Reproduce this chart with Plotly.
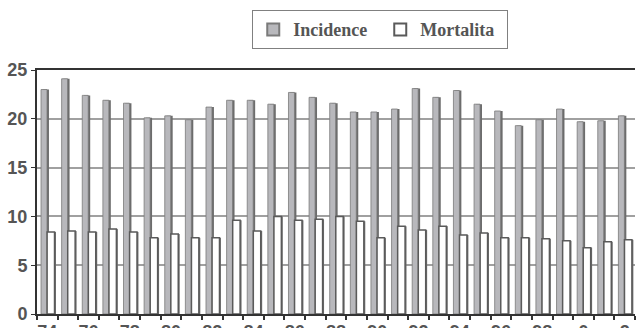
import plotly.graph_objects as go

# Annual rates, 1974-2002
years = list(range(1974, 2003))
incidence = [23.0, 24.1, 22.4, 21.9, 21.6, 20.1, 20.3, 19.9, 21.2, 21.9,
             21.9, 21.5, 22.7, 22.2, 21.6, 20.7, 20.7, 21.0, 23.1, 22.2,
             22.9, 21.5, 20.8, 19.3, 19.9, 21.0, 19.7, 19.8, 20.3]
mortalita = [8.4, 8.5, 8.4, 8.7, 8.4, 7.8, 8.2, 7.8, 7.8, 9.6,
             8.5, 10.0, 9.6, 9.7, 10.0, 9.5, 7.8, 9.0, 8.6, 9.0,
             8.1, 8.3, 7.8, 7.8, 7.7, 7.5, 6.8, 7.4, 7.6]
tick_years = years[::2]
tick_text = ["74", "76", "78", "80", "82", "84", "86", "88", "90", "92",
             "94", "96", "98", "0", "2"]

LABEL = "#555555"
DARK = "#6c6c6c"

fig = go.Figure()

# darker side faces, drawn first so the front faces sit on top
fig.add_trace(go.Bar(x=years, y=incidence, offset=-0.22, width=0.30,
                     marker=dict(color=DARK, line=dict(width=0)),
                     showlegend=False, hoverinfo="skip"))
fig.add_trace(go.Bar(x=years, y=incidence, name="Incidence", offset=-0.305, width=0.29,
                     marker=dict(color="#b8b8bc", line=dict(color="#7a7a7a", width=0.8))))
fig.add_trace(go.Bar(x=years, y=mortalita, offset=0.05, width=0.37,
                     marker=dict(color=DARK, line=dict(width=0)),
                     showlegend=False, hoverinfo="skip"))
fig.add_trace(go.Bar(x=years, y=mortalita, name="Mortalita", offset=-0.01, width=0.36,
                     marker=dict(color="#ffffff", line=dict(color="#5a5a5a", width=1.5))))

fig.update_layout(
    width=636, height=328,
    margin=dict(l=37, r=1, t=70, b=14, autoexpand=False),
    paper_bgcolor="white", plot_bgcolor="white",
    barmode="overlay",
    showlegend=True,
    legend=dict(orientation="h", x=0.574, xanchor="center", y=1.245, yanchor="top",
                bordercolor="#808080", borderwidth=1, bgcolor="white",
                font=dict(family="Liberation Serif", size=18, color=LABEL, weight=700),
                itemwidth=30, entrywidth=82, tracegroupgap=0, itemsizing="constant"),
    xaxis=dict(range=[1973.5, 2002.5], tickmode="array", tickvals=tick_years,
               ticktext=tick_text, ticks="", showgrid=False, zeroline=False,
               automargin=False,
               showline=True, linecolor="#333333", linewidth=2, mirror=True,
               tickfont=dict(family="Liberation Sans", size=18, color=LABEL, weight=700),
               minor=dict(tickvals=[y + 0.5 for y in [years[0] - 1] + years],
                          ticks="outside", ticklen=4, tickcolor="#333333", tickwidth=1.5)),
    yaxis=dict(range=[0, 25], dtick=5, ticks="outside", ticklen=4, tickcolor="#333333",
               showgrid=True, gridcolor="#a0a0a0", gridwidth=1.5, zeroline=False,
               automargin=False,
               showline=True, linecolor="#333333", linewidth=2,
               tickfont=dict(family="Liberation Sans", size=18, color=LABEL, weight=700)),
)

fig.write_html("out.html")
